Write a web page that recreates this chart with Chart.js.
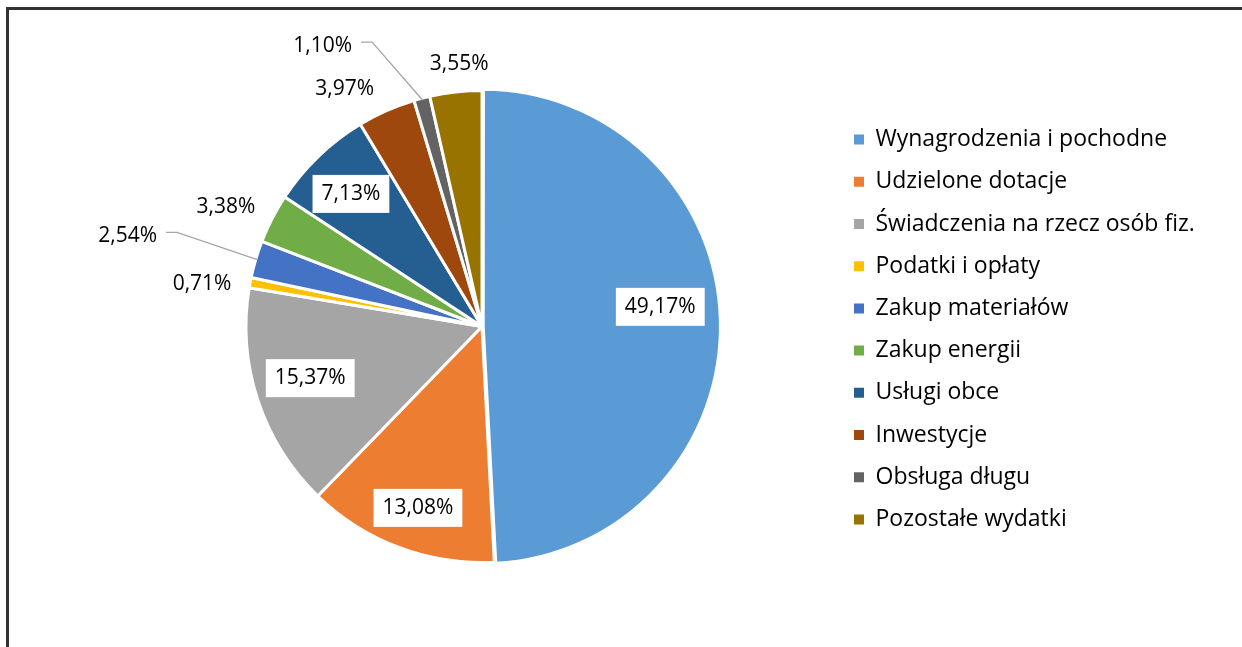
<!DOCTYPE html>
<html lang="pl">
<head>
<meta charset="utf-8">
<title>Struktura wydatków</title>
<script src="https://cdn.jsdelivr.net/npm/chart.js@4.4.1/dist/chart.umd.min.js"></script>
<style>
  html, body { margin: 0; padding: 0; background: #fff; }
  #wrap { position: relative; width: 1242px; height: 647px; overflow: hidden; }
  #ramka { position: absolute; left: 6px; top: 7px; width: 1300px; height: 700px;
           border-left: 3px solid #333; border-top: 3px solid #333; }
  canvas { position: absolute; left: 0; top: 0; }
</style>
</head>
<body>
<div id="wrap">
  <div id="ramka"></div>
  <canvas id="chartWydatki" width="1242" height="647"></canvas>
</div>
<script>
const kategorie = [
  'Wynagrodzenia i pochodne',
  'Udzielone dotacje',
  'Świadczenia na rzecz osób fiz.',
  'Podatki i opłaty',
  'Zakup materiałów',
  'Zakup energii',
  'Usługi obce',
  'Inwestycje',
  'Obsługa długu',
  'Pozostałe wydatki'
];
const udzial = [49.17, 13.08, 15.37, 0.71, 2.54, 3.38, 7.13, 3.97, 1.10, 3.55];
const kolory = ['#5B9BD5', '#ED7D31', '#A5A5A5', '#FFC000', '#4472C4',
                '#70AD47', '#255E91', '#9E480E', '#636363', '#997300'];

const FONT = '"Open Sans"';
const FONT_SIZE = 21;      // etykiety procentowe
const LEG_SIZE = 23;       // legenda

// gdzie stoi etykieta: r = ułamek promienia, da = przesunięcie kąta w stopniach
const ulozenie = [
  { r: 0.76, da: -4.8, ramka: true },
  { r: 0.815, da: -1.1, ramka: true },
  { r: 0.76, da: 1.5, ramka: true },
  { r: 1.20, da: -2.0 },
  { r: 1.55, da: -2.2, linia: true },
  { r: 1.197, da: -2.2 },
  { r: 0.79, da: -0.8, ramka: true },
  { r: 1.161, da: -6.2 },
  { r: 1.368, da: -14.8, linia: true },
  { r: 1.115, da: 1.4 }
];

const etykiety = {
  id: 'etykiety',
  afterDatasetsDraw(chart) {
    const ctx = chart.ctx;
    const meta = chart.getDatasetMeta(0);
    ctx.save();
    ctx.font = FONT_SIZE + 'px ' + FONT;
    ctx.textAlign = 'center';
    ctx.textBaseline = 'middle';
    meta.data.forEach((arc, i) => {
      const p = arc.getProps(['x', 'y', 'startAngle', 'endAngle', 'outerRadius']);
      const mid = (p.startAngle + p.endAngle) / 2;
      const u = ulozenie[i];
      const a = mid + u.da * Math.PI / 180;
      const lx = p.x + Math.cos(a) * p.outerRadius * u.r;
      const ly = p.y + Math.sin(a) * p.outerRadius * u.r;
      const txt = udzial[i].toFixed(2).replace('.', ',') + '%';
      const w = ctx.measureText(txt).width;
      if (u.ramka) {
        ctx.fillStyle = '#fff';
        ctx.fillRect(lx - w / 2 - 9, ly - 19, w + 18, 38);
      }
      if (u.linia) {
        const ex = p.x + Math.cos(mid) * (p.outerRadius - 1.5);
        const ey = p.y + Math.sin(mid) * (p.outerRadius - 1.5);
        ctx.strokeStyle = '#A6A6A6';
        ctx.lineWidth = 1.3;
        ctx.beginPath();
        ctx.moveTo(ex, ey);
        ctx.lineTo(lx + w / 2 + 20, ly - 3.5);
        ctx.lineTo(lx + w / 2 + 9, ly - 3.5);
        ctx.stroke();
      }
      ctx.fillStyle = '#000';
      ctx.fillText(txt, lx, ly);
    });
    ctx.restore();
  }
};

function rysuj() {
  const canvas = document.getElementById('chartWydatki');
  const c = canvas.getContext('2d');
  c.font = LEG_SIZE + 'px ' + FONT;
  const najdluzszy = Math.max(...kategorie.map(k => c.measureText(k).width));

  const legPad = 19.2;
  const legLeft = 854 - legPad;                 // kwadrat legendy ma stać na x=854
  const legWidth = legPad + 10 + LEG_SIZE / 2 + najdluzszy + 10;
  const padRight = 1242 - legLeft - legWidth;
  const padLeft = 2 * 482 - legLeft;            // środek koła na x=482

  new Chart(canvas, {
    type: 'pie',
    data: {
      labels: kategorie,
      datasets: [{
        data: udzial,
        backgroundColor: kolory,
        borderColor: '#fff',
        borderWidth: 3,
        offset: [5, 0, 0, 0, 0, 0, 0, 0, 0, 0]
      }]
    },
    options: {
      responsive: false,
      animation: false,
      radius: 236,
      layout: { padding: { left: padLeft, right: padRight, top: 6, bottom: 0 } },
      plugins: {
        tooltip: { enabled: false },
        legend: {
          position: 'right',
          title: { display: true, text: '', padding: 0, font: { size: 5 } },
          labels: {
            color: '#000',
            font: { family: FONT, size: LEG_SIZE },
            boxWidth: 10,
            boxHeight: 10,
            padding: legPad,
            generateLabels(chart) {
              const base = (Chart.overrides.pie.plugins.legend.labels.generateLabels ||
                            Chart.overrides.doughnut.plugins.legend.labels.generateLabels);
              const items = base(chart);
              items.forEach(it => { it.lineWidth = 0; it.strokeStyle = 'rgba(0,0,0,0)'; });
              return items;
            }
          }
        }
      }
    },
    plugins: [etykiety]
  });
}

if (document.fonts && document.fonts.load) {
  document.fonts.load(LEG_SIZE + 'px ' + FONT).then(rysuj, rysuj);
} else {
  rysuj();
}
</script>
</body>
</html>
